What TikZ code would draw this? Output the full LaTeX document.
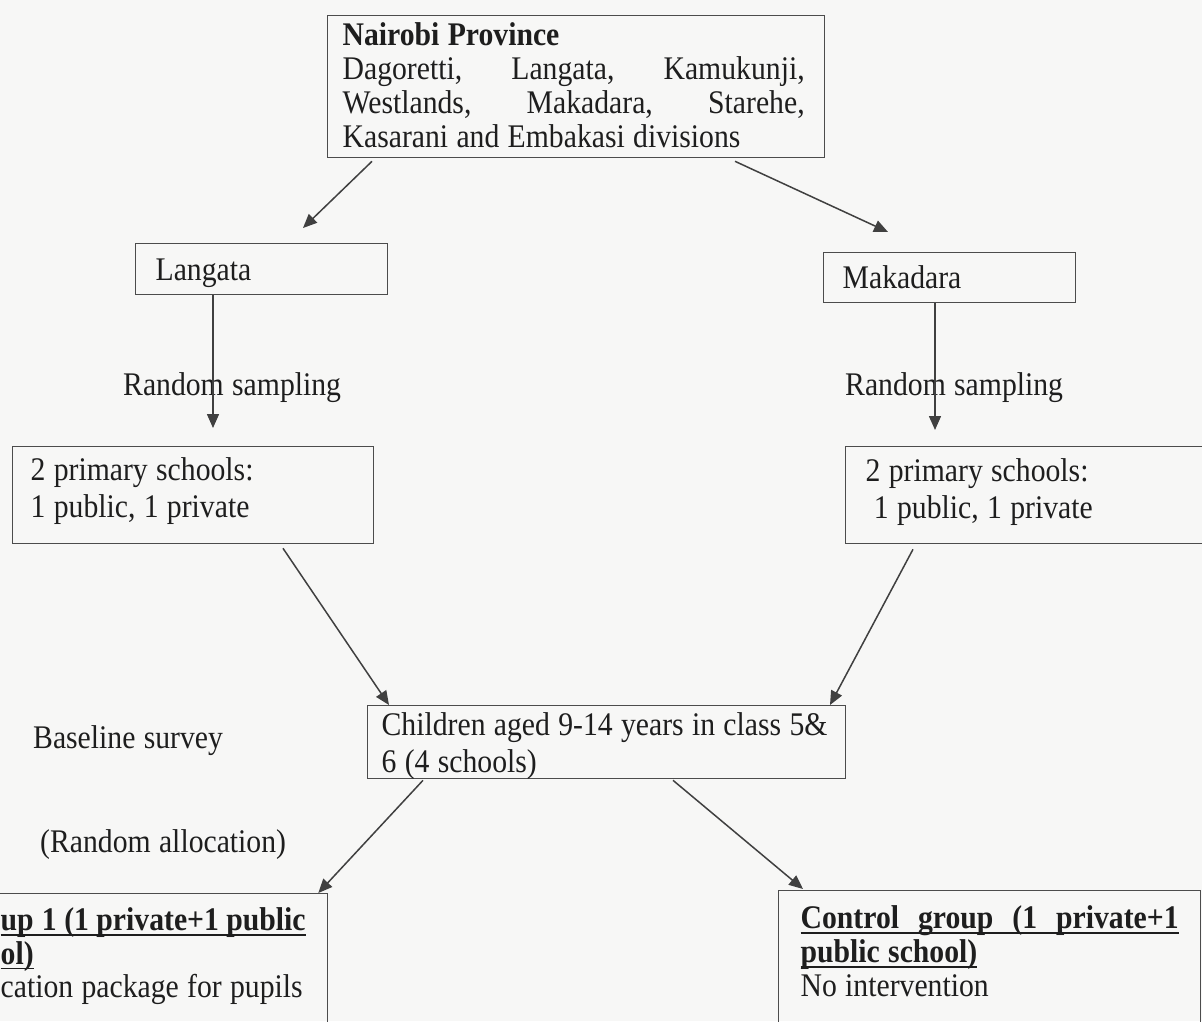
\documentclass[tikz,border=0pt]{standalone}
\usepackage{fontspec}
\setmainfont{Liberation Serif}[FakeStretch=0.9,WordSpace=1.12]
\usetikzlibrary{arrows.meta}
\definecolor{paper}{RGB}{247,247,246}
\definecolor{ink}{RGB}{30,30,30}
\tikzstyle{box} = [rectangle, draw=black!70, line width=1.3pt, anchor=north west, inner ysep=0pt, align=flush left, text=ink, font=\fontsize{33}{37}\selectfont]
\tikzstyle{freetext} = [anchor=base west, inner sep=0pt, text=ink, font=\fontsize{33}{37}\selectfont]
\tikzstyle{arrow}=[line width=1.5pt, draw=black!75, -{Triangle[length=14pt,width=12pt]}]
\newcommand{\ulline}[1]{\setbox0=\hbox{#1}\rlap{\rule[-5pt]{\wd0}{1.4pt}}\box0}

\begin{document}
\begin{tikzpicture}[x=1pt,y=-1pt]
\useasboundingbox (0,0) rectangle (1202,1021);
\fill[paper] (0,0) rectangle (1202,1021);

\node(nairobi)[box, inner xsep=15pt, text width=467pt, text height=30pt, text depth=112pt, font=\fontsize{33}{34}\selectfont] at (327,15)
  {\textbf{Nairobi Province}\\
   \makebox[462pt][s]{Dagoretti,\hfill Langata,\hfill Kamukunji,}\\
   \makebox[462pt][s]{Westlands,\hfill Makadara,\hfill Starehe,}\\
   \mbox{Kasarani and Embakasi divisions}};
\node(langata)[box, inner xsep=20pt, text width=212pt, text height=37pt, text depth=14pt] at (135,243) {Langata};
\node(makadara)[box, inner xsep=19pt, text width=214pt, text height=36pt, text depth=14pt] at (823,252) {Makadara};
\node(leftschools)[box, inner xsep=18pt, text width=325pt, text height=34pt, text depth=63pt] at (12,446)
  {\mbox{2 primary schools:}\\ \mbox{1 public, 1 private}};
\node(rightschools)[box, inner xsep=20pt, text width=340pt, text height=35pt, text depth=62pt] at (845,446)
  {\mbox{2 primary schools:}\\ \mbox{~1 public, 1 private}};
\node(children)[box, inner xsep=14pt, text width=450pt, text height=30pt, text depth=43pt] at (367,705)
  {\mbox{Children aged 9-14 years in class 5\&}\\ \mbox{6 (4 schools)}};
\node(groupone)[box, inner xsep=22pt, text width=305pt, text height=37pt, text depth=110pt, font=\fontsize{33}{33.5}\selectfont] at (-22,893)
  {\textbf{\ulline{\makebox[305pt][s]{up 1\hfill (1\hfill private+1\hfill public}}}\\
   \textbf{\ulline{ol)}}\\
   \mbox{cation package for pupils}};
\node(control)[box, inner xsep=22pt, text width=378pt, text height=38pt, text depth=112pt, font=\fontsize{33}{34}\selectfont] at (778,890)
  {\textbf{\ulline{\makebox[378pt][s]{Control\hfill group\hfill (1\hfill private+1}}}\\
   \textbf{\ulline{public school)}}\\
   \mbox{No intervention}};

\node(leftsampling)[freetext] at (123,395) {Random sampling};
\node(rightsampling)[freetext] at (845,395) {Random sampling};
\node(baseline)[freetext] at (33,748) {Baseline survey};
\node(allocation)[freetext] at (40,852) {(Random allocation)};

\draw[arrow]([xshift=45pt,yshift=-3pt]nairobi.south west)--([xshift=168pt,yshift=15pt]langata.north west);
\draw[arrow]([xshift=408pt,yshift=-3pt]nairobi.south west)--([xshift=65pt,yshift=20pt]makadara.north west);
\draw[arrow]([xshift=78pt]langata.south west)--([xshift=201pt,yshift=18pt]leftschools.north west);
\draw[arrow]([xshift=112pt]makadara.south west)--([xshift=90pt,yshift=16pt]rightschools.north west);
\draw[arrow]([xshift=271pt,yshift=-4pt]leftschools.south west)--([xshift=22pt]children.north west);
\draw[arrow]([xshift=68pt,yshift=-5pt]rightschools.south west)--([xshift=463pt]children.north west);
\draw[arrow]([xshift=56pt,yshift=-1pt]children.south west)--([xshift=-10pt]groupone.north east);
\draw[arrow]([xshift=306pt,yshift=-1pt]children.south west)--([xshift=25pt,yshift=1pt]control.north west);
\end{tikzpicture}
\end{document}
